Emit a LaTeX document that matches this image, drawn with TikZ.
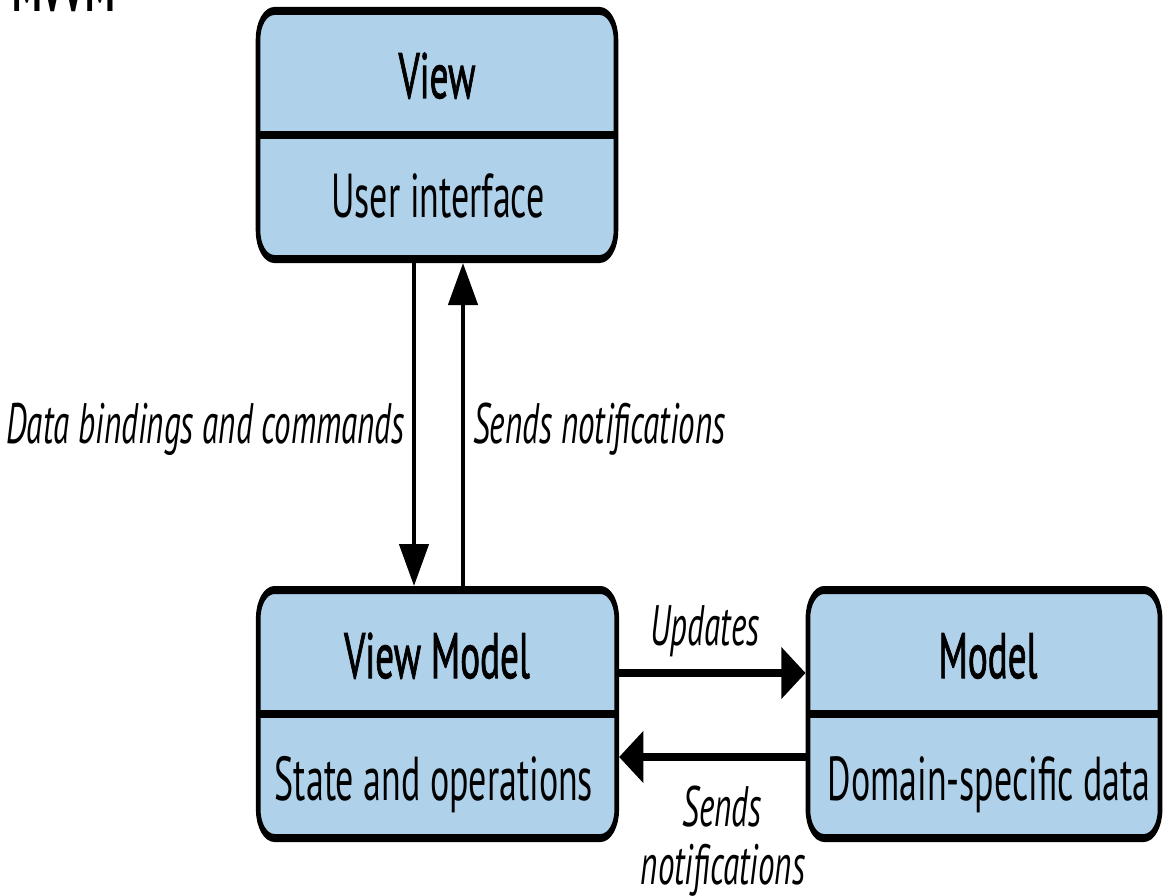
\documentclass[tikz,border=0pt]{standalone}
\usepackage{fontspec}
\setmainfont{PT Sans}
\newfontfamily\semib{PT Sans}[FakeBold=1.8]
\usetikzlibrary{arrows.meta}
\definecolor{boxblue}{RGB}{175,210,234}
\begin{document}
\begin{tikzpicture}
\useasboundingbox (0,0) rectangle (1164pt,-896pt);
\begin{scope}[transform canvas={xscale=0.58}, x=1.7241pt, y=-1pt,
  box/.style={draw, line width=8pt, fill=boxblue, rounded corners=28pt, inner sep=0pt, minimum height=248pt},
  divider/.style={line width=8pt},
  head/.style={font=\semib\fontsize{64}{70}\selectfont, inner sep=0pt},
  body/.style={font=\fontsize{62}{68}\selectfont, inner sep=0pt},
  lab/.style={font=\itshape\fontsize{57}{62}\selectfont, inner sep=0pt},
  arr/.style={line width=8pt, -{Triangle[length=42pt,width=50pt]}},
  ttl/.style={font=\bfseries\fontsize{64}{70}\selectfont, inner sep=0pt}]
  \node[ttl, anchor=base west] (mvvm) at (12,12) {MVVM};
  \node[box, minimum width=617pt] (view) at (437,135) {};
  \node[box, minimum width=618pt] (vm) at (437.5,714) {};
  \node[box, minimum width=607pt] (model) at (984,714) {};
  \draw[divider] (view.west) -- (view.east);
  \draw[divider] (vm.west) -- (vm.east);
  \draw[divider] (model.west) -- (model.east);
  \node[head, anchor=base] (tview) at (437,98) {View};
  \node[body, anchor=base] (bview) at (438,218) {User interface};
  \node[head, anchor=base] (tvm) at (437,678) {View Model};
  \node[body, anchor=base] (bvm) at (434,800) {State and operations};
  \node[head, anchor=base] (tmodel) at (988,678) {Model};
  \node[body, anchor=base] (bmodel) at (989,800) {Domain-specific data};
  \coordinate (xd) at (414,0);
  \coordinate (xu) at (463,0);
  \coordinate (yu) at (0,673);
  \coordinate (ys) at (0,757);
  \draw[arr] (xd |- view.south) -- (xd |- vm.north);
  \draw[arr] (xu |- vm.north) -- (xu |- view.south);
  \draw[arr] (vm.east |- yu) -- (model.west |- yu);
  \draw[arr] (model.west |- ys) -- (vm.east |- ys);
  \node[lab, anchor=base east] (ldb) at (405,443) {Data bindings and commands};
  \node[lab, anchor=base west] (lsn) at (473,443) {Sends notifications};
  \node[lab, anchor=base] (lup) at (705,645) {Updates};
  \node[lab, anchor=base] (lsn2) at (722,826) {Sends};
  \node[lab, anchor=base] (lsn3) at (723,884) {notifications};
\end{scope}
\end{tikzpicture}
\end{document}
